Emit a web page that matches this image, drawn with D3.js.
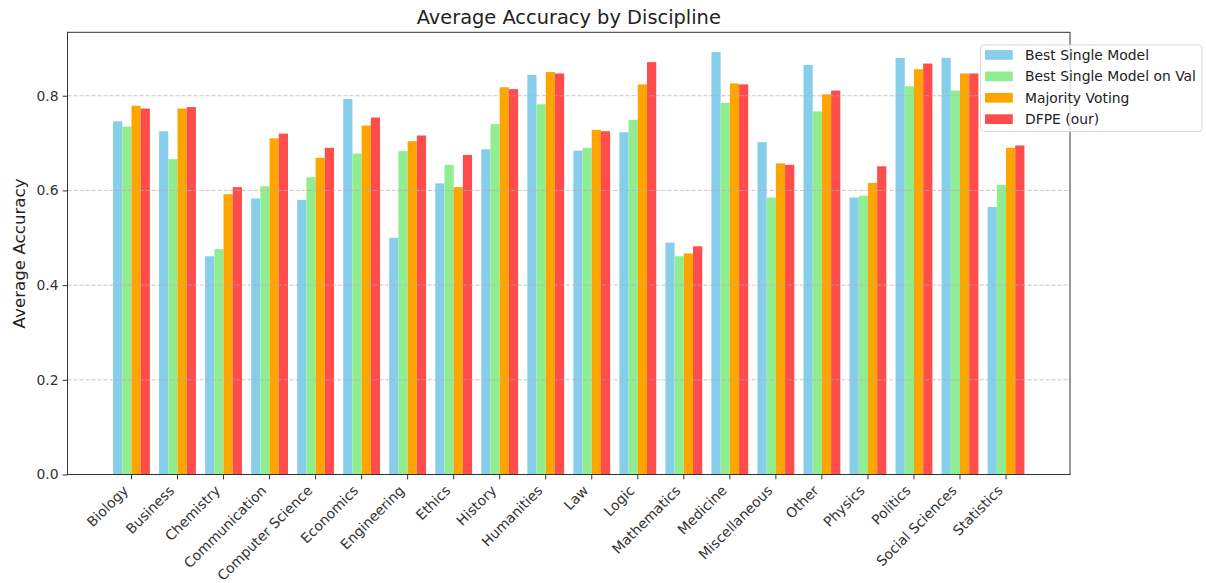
<!DOCTYPE html>
<html>
<head>
<meta charset="utf-8">
<script src="https://cdn.jsdelivr.net/npm/d3@7"></script>
<style>
  body { margin: 0; background: #fff; }
  text { font-family: "DejaVu Sans", sans-serif; }
</style>
</head>
<body>
<script>
// discipline names, one bar group each
var disciplines = ['Biology', 'Business', 'Chemistry', 'Communication', 'Computer Science',
  'Economics', 'Engineering', 'Ethics', 'History', 'Humanities', 'Law', 'Logic',
  'Mathematics', 'Medicine', 'Miscellaneous', 'Other', 'Physics', 'Politics',
  'Social Sciences', 'Statistics'];

// values
var bestSingle = [0.746, 0.725, 0.461, 0.583, 0.580, 0.793, 0.500, 0.615, 0.687, 0.844,
  0.684, 0.723, 0.490, 0.892, 0.702, 0.865, 0.585, 0.880, 0.880, 0.565];
var bestSingleVal = [0.735, 0.666, 0.476, 0.609, 0.628, 0.678, 0.683, 0.654, 0.740, 0.782,
  0.690, 0.749, 0.461, 0.785, 0.585, 0.767, 0.589, 0.820, 0.811, 0.612];
var majorityVoting = [0.779, 0.773, 0.592, 0.710, 0.669, 0.737, 0.704, 0.607, 0.818, 0.850,
  0.728, 0.824, 0.467, 0.826, 0.657, 0.803, 0.616, 0.856, 0.847, 0.690];
var dfpe = [0.773, 0.776, 0.607, 0.720, 0.690, 0.754, 0.716, 0.675, 0.814, 0.847,
  0.725, 0.871, 0.482, 0.824, 0.654, 0.811, 0.651, 0.868, 0.847, 0.695];

var seriesNames = ['Best Single Model', 'Best Single Model on Val', 'Majority Voting', 'DFPE (our)'];
var seriesColors = ['#87ceeb', '#90ee90', '#ffa500', '#ff4d4d'];
var yTicks = [0, 0.2, 0.4, 0.6, 0.8];

var width = 1206, height = 583;
var plotLeft = 67.5, plotRight = 1070, plotTop = 32.3, plotBottom = 474.5;
var yMax = 0.934;

var allSeries = [bestSingle, bestSingleVal, majorityVoting, dfpe];

var svg = d3.select('body')
  .append('svg')
    .attr('width', width)
    .attr('height', height);

// one band per discipline; bars fill 80% of the band
var x = d3.scaleBand()
  .domain(disciplines)
  .range([plotLeft, plotRight])
  .paddingInner(0)
  .paddingOuter(0.89);
var step = x.step();

var xInner = d3.scaleBand()
  .domain(d3.range(seriesNames.length))
  .range([0, step * 0.8]);

var y = d3.scaleLinear()
  .domain([0, yMax])
  .range([plotBottom, plotTop]);

// bars
allSeries.forEach(function(vals, si) {
  svg.append('g')
    .selectAll('rect')
    .data(vals)
    .enter()
    .append('rect')
      .attr('x', function(d, i) { return x(disciplines[i]) + step * 0.1 + xInner(si); })
      .attr('y', function(d) { return y(d); })
      .attr('width', xInner.bandwidth())
      .attr('height', function(d) { return y(0) - y(d); })
      .attr('fill', seriesColors[si]);
});

// dashed horizontal grid (drawn over the bars like matplotlib does)
svg.append('g')
  .selectAll('line')
  .data(yTicks)
  .enter()
  .append('line')
    .attr('x1', plotLeft)
    .attr('x2', plotRight)
    .attr('y1', function(d) { return y(d); })
    .attr('y2', function(d) { return y(d); })
    .attr('stroke', '#b0b0b0')
    .attr('stroke-opacity', 0.8)
    .attr('stroke-width', 0.9)
    .attr('stroke-dasharray', '4,2');

// frame
svg.append('rect')
  .attr('x', plotLeft)
  .attr('y', plotTop)
  .attr('width', plotRight - plotLeft)
  .attr('height', plotBottom - plotTop)
  .attr('fill', 'none')
  .attr('stroke', '#333')
  .attr('stroke-width', 1);

// y axis
var yAxis = svg.append('g')
  .attr('transform', 'translate(' + plotLeft + ',0)')
  .call(d3.axisLeft(y).tickValues(yTicks).tickFormat(d3.format('.1f')).tickSize(4.9).tickPadding(4));
yAxis.select('.domain').remove();
yAxis.selectAll('line').attr('stroke', '#333');
yAxis.selectAll('text')
  .attr('font-size', 13.9)
  .attr('fill', '#333')
  .style('font-family', '"DejaVu Sans", sans-serif');

// x axis, labels rotated 45 degrees
var xAxis = svg.append('g')
  .attr('transform', 'translate(0,' + plotBottom + ')')
  .call(d3.axisBottom(x).tickSize(4.9).tickPadding(0));
xAxis.select('.domain').remove();
xAxis.selectAll('line').attr('stroke', '#333');
xAxis.selectAll('text')
  .attr('font-size', 13.9)
  .attr('fill', '#333')
  .style('font-family', '"DejaVu Sans", sans-serif')
  .attr('text-anchor', 'end')
  .attr('dy', null)
  .attr('y', 0)
  .attr('transform', 'translate(-2.4,17) rotate(-45)');

// title and y label
svg.append('text')
  .attr('x', (plotLeft + plotRight) / 2)
  .attr('y', 24)
  .attr('text-anchor', 'middle')
  .attr('font-size', 19.4)
  .attr('fill', '#222')
  .text('Average Accuracy by Discipline');

svg.append('text')
  .attr('transform', 'translate(24.5,' + (plotTop + plotBottom) / 2 + ') rotate(-90)')
  .attr('text-anchor', 'middle')
  .attr('font-size', 16.7)
  .attr('fill', '#222')
  .text('Average Accuracy');

// legend
var legend = svg.append('g')
  .attr('transform', 'translate(980.5,45)');
legend.append('rect')
  .attr('width', 221.5)
  .attr('height', 86.5)
  .attr('rx', 3)
  .attr('fill', '#fff')
  .attr('fill-opacity', 0.8)
  .attr('stroke', '#d8d8d8')
  .attr('stroke-width', 1);
var rows = legend.selectAll('.row')
  .data(seriesNames)
  .enter()
  .append('g')
    .attr('class', 'row')
    .attr('transform', function(d, i) { return 'translate(0,' + (10 + i * 21.4) + ')'; });
rows.append('rect')
  .attr('x', 4.5)
  .attr('y', -4.9)
  .attr('width', 27.8)
  .attr('height', 9.7)
  .attr('fill', function(d, i) { return seriesColors[i]; });
rows.append('text')
  .attr('x', 44.5)
  .attr('y', 5)
  .attr('font-size', 13.9)
  .attr('fill', '#222')
  .text(function(d) { return d; });
</script>
</body>
</html>
